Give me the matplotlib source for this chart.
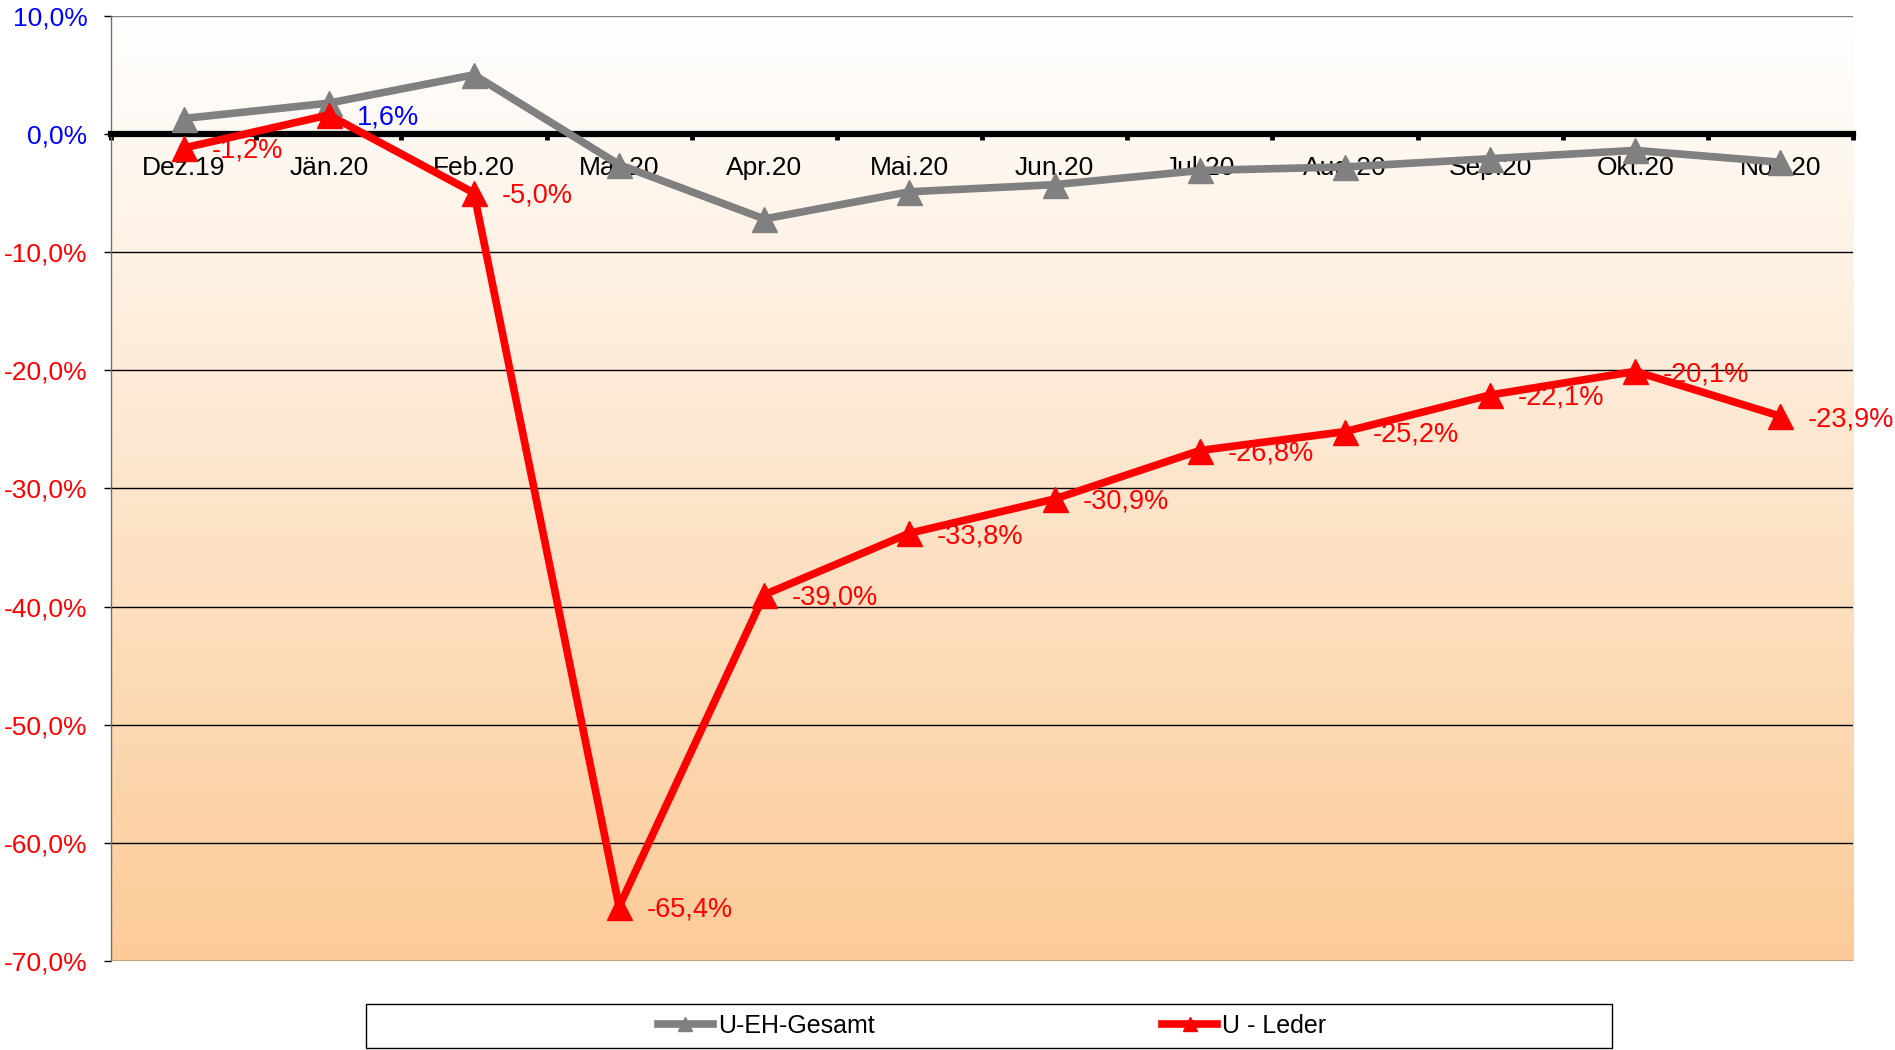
import matplotlib
matplotlib.use("Agg")
import matplotlib.pyplot as plt
import numpy as np
from matplotlib.colors import LinearSegmentedColormap
from matplotlib.lines import Line2D
from matplotlib.patches import Rectangle

plt.rcParams['font.family'] = ['Liberation Sans', 'DejaVu Sans']

categories = ["Dez.19", "Jän.20", "Feb.20", "Mär.20", "Apr.20", "Mai.20",
              "Jun.20", "Jul.20", "Aug.20", "Sep.20", "Okt.20", "Nov.20"]
gesamt = [1.3, 2.6, 5.0, -2.6, -7.2, -4.9, -4.3, -3.1, -2.8, -2.1, -1.4, -2.4]
leder = [-1.2, 1.6, -5.0, -65.4, -39.0, -33.8, -30.9, -26.8, -25.2, -22.1, -20.1, -23.9]
yticks = [10, 0, -10, -20, -30, -40, -50, -60, -70]
series_names = ["U-EH-Gesamt", "U - Leder"]

fig = plt.figure(figsize=(18.95, 10.5), dpi=100)
ax = fig.add_axes([111/1895, 1 - 961/1050, (1853 - 111)/1895, (961 - 15.7)/1050])

x = np.arange(len(categories))

# gradient background (white at top -> peach at bottom)
cmap = LinearSegmentedColormap.from_list("bg", ["#FFFFFF", "#FCCB98"], N=256)
grad = np.linspace(0, 1, 256).reshape(-1, 1)
ax.imshow(grad, aspect='auto', cmap=cmap, origin='upper',
          extent=(-0.5, len(categories) - 0.5, -70, 10),
          zorder=0, interpolation='bicubic')
ax.set_xlim(-0.5, len(categories) - 0.5)
ax.set_ylim(-70, 10)

# gridlines
for yv in yticks:
    if yv == 0:
        continue
    ax.axhline(yv, color="#808080" if yv == 10 else "#000000", lw=1.0, zorder=1)

for s in ['top', 'right']:
    ax.spines[s].set_visible(False)
ax.spines['left'].set_color("#7F6A55")
ax.spines['left'].set_linewidth(1.0)
ax.spines['bottom'].set_position(('data', 0))
ax.spines['bottom'].set_linewidth(4.5)
ax.spines['bottom'].set_color('black')

ax.set_yticks(yticks)
ax.set_yticklabels([f"{v:.1f}%".replace('.', ',') for v in yticks])
for lbl, v in zip(ax.get_yticklabels(), yticks):
    lbl.set_color('#0000FF' if v >= 0 else '#FF0000')
ax.tick_params(axis='y', length=5, width=1.0, color='#000000', pad=12, labelsize=19)

ax.set_xticks(x)
ax.set_xticklabels(categories)
ax.set_xticks(np.arange(-0.5, len(categories)), minor=True)
ax.tick_params(axis='x', which='major', length=0, pad=16, labelsize=19, labelcolor='black')
ax.tick_params(axis='x', which='minor', length=4, width=3.5, color='black', direction='out')

ax.plot(x, gesamt, color='#808080', lw=5.5, marker='^', ms=18, zorder=3, clip_on=False)
ax.plot(x, leder, color='#FF0000', lw=5.5, marker='^', ms=18, zorder=4, clip_on=False)

for xi, v in zip(x, leder):
    col = '#0000FF' if v >= 0 else '#FF0000'
    ax.annotate(f"{v:.1f}%".replace('.', ','), (xi, v), xytext=(20, -2),
                textcoords='offset points', ha='left', va='center',
                fontsize=19.5, color=col, zorder=6, annotation_clip=False)

# legend
handles = [Line2D([], [], color='#808080', lw=5.5, marker='^', ms=10),
           Line2D([], [], color='#FF0000', lw=5.5, marker='^', ms=10)]
fig.add_artist(Rectangle((366/1895, 1 - 1048/1050), (1612 - 366)/1895, 44/1050,
                         transform=fig.transFigure, facecolor='white',
                         edgecolor='black', lw=1.0))
fig.legend(handles, series_names, loc='center', bbox_to_anchor=(992/1895, 1 - 1026/1050),
           ncol=2, frameon=False, fontsize=18, handlelength=2.2, handletextpad=0.2,
           columnspacing=11.5, borderpad=0)

fig.savefig("out.png", dpi=100)
